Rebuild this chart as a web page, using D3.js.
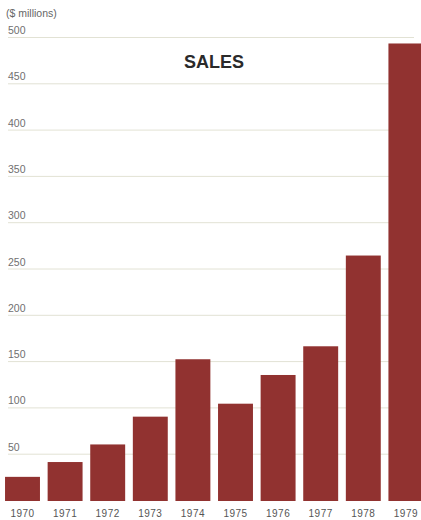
<!DOCTYPE html>
<html>
<head>
<meta charset="utf-8">
<script src="https://cdn.jsdelivr.net/npm/d3@7"></script>
<style>
  html, body { margin: 0; padding: 0; background: #fff; }
  svg { display: block; }
</style>
</head>
<body>
<div id="chart"></div>
<script>
// Sales bar chart, 1970-1979
const years = ["1970", "1971", "1972", "1973", "1974", "1975", "1976", "1977", "1978", "1979"];
const sales = [25, 41, 60, 90, 152, 104, 135, 166, 264, 493];
const yTicks = [50, 100, 150, 200, 250, 300, 350, 400, 450, 500];

const width = 421, height = 520;

const svg = d3.select("#chart").append("svg")
    .attr("width", width)
    .attr("height", height)
    .style("font-family", "'Liberation Sans', Arial, sans-serif");

// scales
const x = d3.scaleBand()
    .domain(years)
    .range([1.2, 427.2])
    .paddingInner(0.18)
    .paddingOuter(0.09);

const y = d3.scaleLinear()
    .domain([0, 500])
    .range([500, 37]);

// unit label
svg.append("text")
    .attr("x", 6)
    .attr("y", 17)
    .attr("fill", "#666")
    .attr("font-size", 10.5)
    .text("($ millions)");

// gridlines + tick labels
const grid = svg.append("g");
grid.selectAll("line")
  .data(yTicks)
  .join("line")
    .attr("x1", 8)
    .attr("x2", 414)
    .attr("y1", d => y(d) + 0.5)
    .attr("y2", d => y(d) + 0.5)
    .attr("stroke", "#e2e2d4")
    .attr("stroke-width", 1);

grid.selectAll("text")
  .data(yTicks)
  .join("text")
    .attr("x", 8)
    .attr("y", d => y(d) - 3)
    .attr("fill", "#707070")
    .attr("font-size", 10.5)
    .text(d => d);

// title
svg.append("text")
    .attr("x", 214)
    .attr("y", 68)
    .attr("text-anchor", "middle")
    .attr("font-size", 18)
    .attr("font-weight", "bold")
    .attr("fill", "#2a2a2a")
    .text("SALES");

// bars
svg.append("g")
  .selectAll("rect")
  .data(years.map((yr, i) => ({ yr, v: sales[i] })))
  .join("rect")
    .attr("x", d => x(d.yr))
    .attr("y", d => y(d.v))
    .attr("width", x.bandwidth())
    .attr("height", d => y(0) + 1 - y(d.v))
    .attr("fill", "#913230");

// year labels
svg.append("g")
  .selectAll("text")
  .data(years)
  .join("text")
    .attr("x", d => x(d) + x.bandwidth() / 2)
    .attr("y", 517)
    .attr("text-anchor", "middle")
    .attr("fill", "#555")
    .attr("font-size", 10)
    .attr("letter-spacing", 0.5)
    .text(d => d);
</script>
</body>
</html>
